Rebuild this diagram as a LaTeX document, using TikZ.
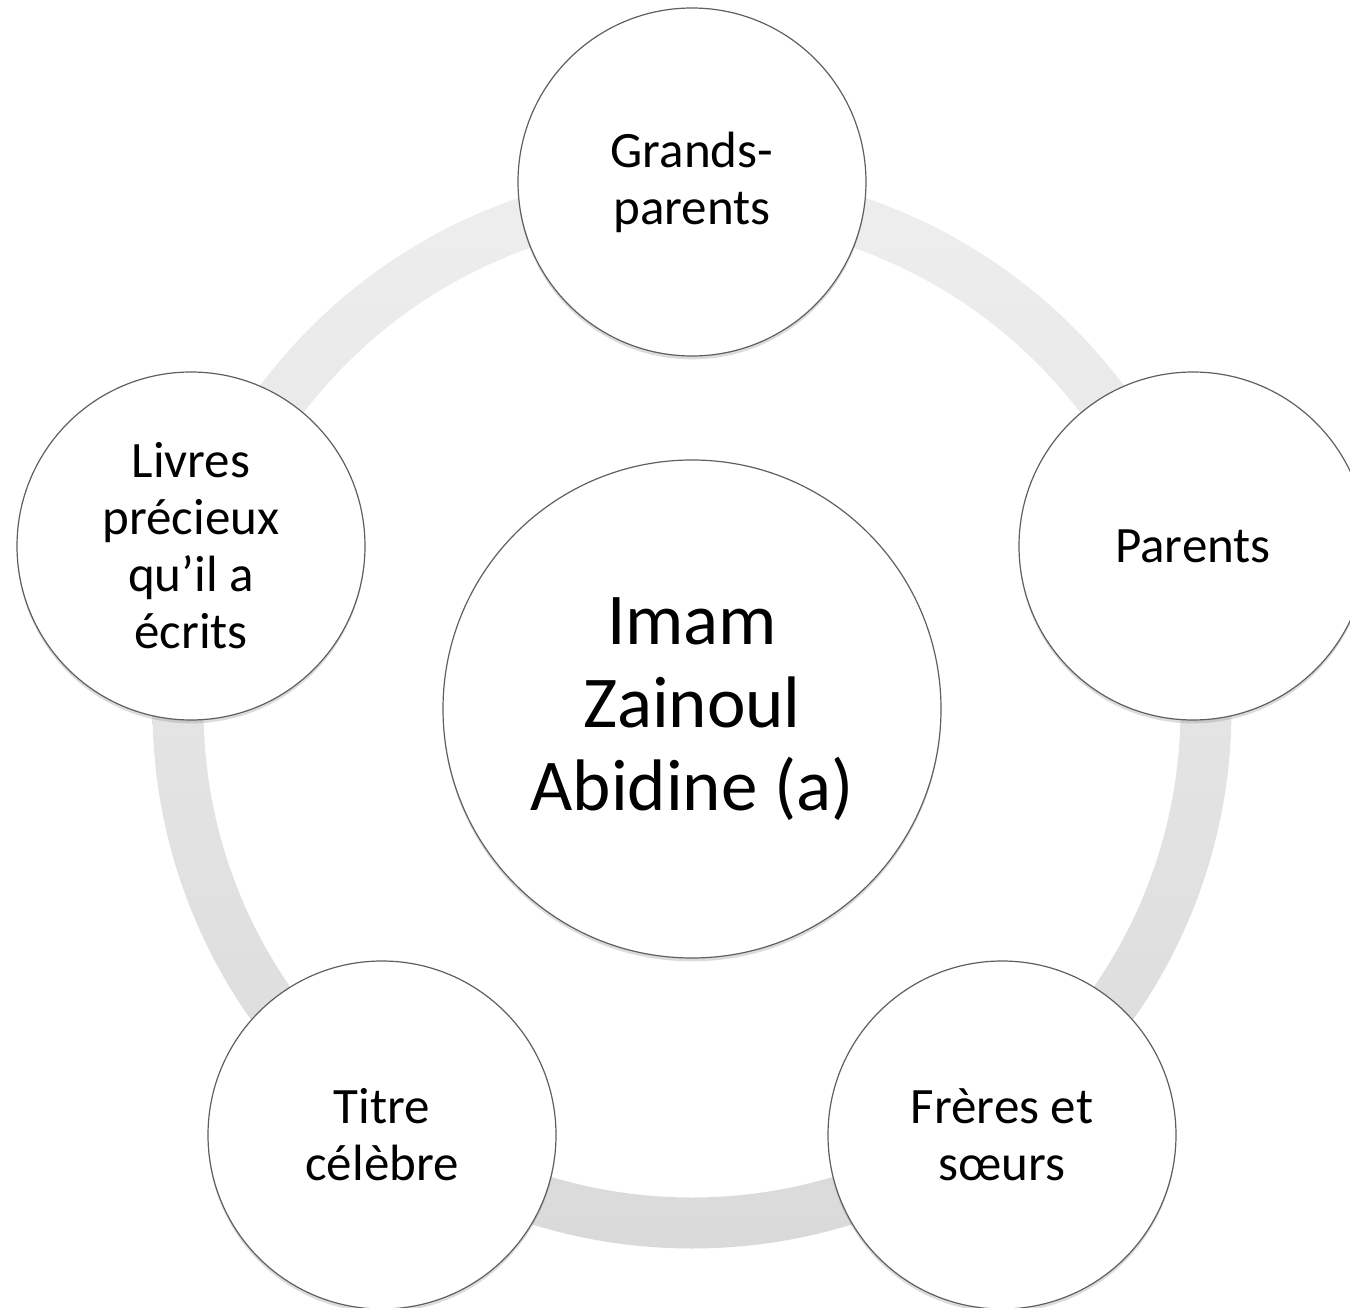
\documentclass[tikz,border=0pt]{standalone}
\usepackage{fontspec}
\setmainfont{Carlito}
\usetikzlibrary{shadows}
\definecolor{ringtop}{RGB}{238,238,238}
\definecolor{ringbot}{RGB}{218,218,218}
\definecolor{edgegray}{RGB}{95,95,95}
\tikzset{
  bubble/.style={circle, draw=edgegray, line width=0.9pt, fill=white, inner sep=0pt,
    minimum size=261pt, align=center, text=black,
    font=\fontsize{38.25pt}{42.75pt}\selectfont,
    drop shadow={opacity=0.28, shadow xshift=0pt, shadow yshift=-2.5pt}},
  hub/.style={bubble, minimum size=373.5pt, font=\fontsize{54.75pt}{62.25pt}\selectfont}
}
\begin{document}
\begin{tikzpicture}[x=0.75pt, y=-0.75pt]
\useasboundingbox (0,0) rectangle (1350,1308);
\clip (0,0) rectangle (1350,1308);
\coordinate (mid) at (692,709);
% ring
\path[even odd rule, top color=ringtop, bottom color=ringbot]
  (mid) circle[radius=539.5] (mid) circle[radius=488.5];
% nodes
\node[hub] (imam) at (mid) {Imam\\Zainoul\\Abidine (a)};
\node[bubble] (gp) at (692,182) {Grands-\\parents};
\node[bubble] (par) at (1193,546) {Parents};
\node[bubble] (frs) at (1002,1135) {Frères et\\sœurs};
\node[bubble] (tit) at (382,1135) {Titre\\célèbre};
\node[bubble] (liv) at (191,546) {Livres\\précieux\\qu’il a\\écrits};
\end{tikzpicture}
\end{document}
